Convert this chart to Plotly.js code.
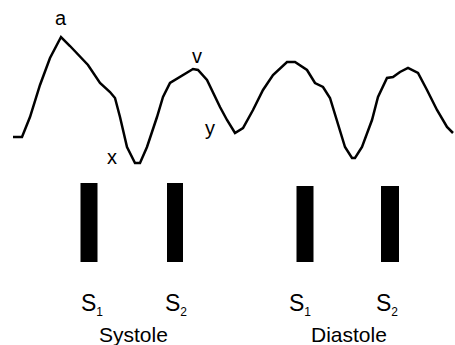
<!DOCTYPE html>
<html>
<head>
<meta charset="utf-8">
<script src="https://cdn.plot.ly/plotly-3.0.1.min.js"></script>
<style>html,body{margin:0;padding:0;background:#fff;}#chart{width:455px;height:345px;}</style>
</head>
<body>
<div id="chart"></div>
<script>
// Jugular venous pulse waveform (time, deflection)
const pulseTime = [13,22,30,40,50,61,70,80,88,100,110,115,120,127,135,140,147,157,163,170,180,193,198,207,220,227,235,243,253,263,273,287,295,307,315,323,330,337,345,352,355,362,372,378,387,393,400,408,418,427,437,447,453];
const pulseLevel = [137,137,117,85,58,37,46,57,65,83,92,98,117,147,163,163,147,117,97,83,77,69,70,80,107,120,133,128,110,90,75,62,62,70,83,87,98,120,147,158,158,147,120,97,78,77,72,68,73,90,110,127,133];

// Wave labels
const waveLabels = ["a","x","v","y"];
const waveLabelX = [61,112,197,210];
const waveLabelY = [18,157,56,128];

// Heart sounds
const soundNames = ["S","S","S","S"];
const soundIndex = ["1","2","1","2"];
const soundLabelX = [92,176,300,387];
const soundTime = [89,175,305,390];
const soundWidth = [17,16,17,18];
const soundTop = [183,183,186,186];
const soundBottom = [262,262,262,262];

// Phases
const phaseNames = ["Systole","Diastole"];
const phaseX = [133,349];

const FONT = "Liberation Sans, Arial, sans-serif";
const annotations = [];
waveLabels.forEach((t,i)=>annotations.push({x:waveLabelX[i],y:waveLabelY[i],text:t,showarrow:false,font:{family:FONT,size:20,color:"#000"}}));
soundNames.forEach((t,i)=>annotations.push({x:soundLabelX[i],y:304,text:t+"<sub><span style='font-size:12px'>"+soundIndex[i]+"</span></sub>",showarrow:false,font:{family:FONT,size:23,color:"#000"}}));
phaseNames.forEach((t,i)=>annotations.push({x:phaseX[i],y:334,text:t,showarrow:false,font:{family:FONT,size:21,color:"#000"}}));

const traces = [
  {x:pulseTime,y:pulseLevel,type:"scatter",mode:"lines",line:{color:"#000",width:2.5},hoverinfo:"skip"},
  {x:soundTime,y:soundTop.map((t,i)=>t-soundBottom[i]),base:soundBottom,width:soundWidth,type:"bar",marker:{color:"#000",line:{width:0}},hoverinfo:"skip"}
];

const layout = {
  width:455,height:345,
  margin:{l:0,r:0,t:0,b:0},
  paper_bgcolor:"#fff",plot_bgcolor:"#fff",
  showlegend:false,
  xaxis:{range:[0,455],visible:false,fixedrange:true},
  yaxis:{range:[345,0],visible:false,fixedrange:true},
  annotations:annotations
};
Plotly.newPlot("chart",traces,layout,{displayModeBar:false,staticPlot:true});
</script>
</body>
</html>
